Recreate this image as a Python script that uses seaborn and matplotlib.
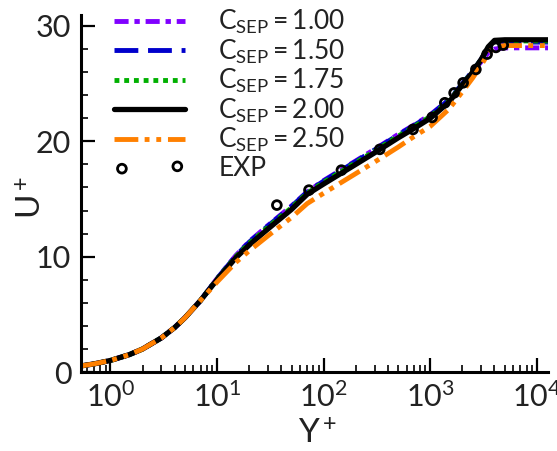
import numpy as np
import pandas as pd
import matplotlib
matplotlib.use("Agg")
import matplotlib.pyplot as plt
import seaborn as sns
from matplotlib.ticker import LogLocator, MultipleLocator, NullFormatter, LogFormatterMathtext

# ---------------- data ----------------
yplus = [0.55, 0.7, 1, 1.5, 2, 3, 4, 5, 7, 10, 15, 20, 30, 50, 70, 100, 200, 300,
         500, 700, 1000, 1500, 2000, 2500, 3000, 3500, 4000, 5000, 7000, 10000, 13000]

inner = [0.55, 0.70, 1.0, 1.5, 1.99, 2.95, 3.85, 4.7, 6.2]

u_c100 = inner + [8.1, 10.1, 11.3, 12.7, 14.4, 15.6, 16.6, 18.3, 19.3,
                  20.6, 21.4, 22.3, 23.6, 24.9, 26.0, 26.9, 27.7, 28.0, 28.1, 28.1, 28.1, 28.1]
u_c150 = inner + [8.1, 10.05, 11.25, 12.65, 14.35, 15.6, 16.55, 18.25, 19.25,
                  20.55, 21.35, 22.25, 23.6, 25.0, 26.1, 27.1, 28.1, 28.5, 28.6, 28.6, 28.6, 28.6]
u_c175 = inner + [8.05, 10.0, 11.15, 12.55, 14.25, 15.5, 16.45, 18.15, 19.15,
                  20.45, 21.25, 22.15, 23.5, 24.95, 26.05, 27.1, 28.15, 28.65, 28.7, 28.7, 28.7, 28.7]
u_c200 = inner + [8.0, 9.9, 11.0, 12.4, 14.1, 15.4, 16.3, 18.0, 19.0,
                  20.3, 21.1, 22.0, 23.4, 24.9, 26.0, 27.1, 28.2, 28.75, 28.8, 28.8, 28.8, 28.8]
u_c250 = inner + [7.8, 9.5, 10.5, 11.8, 13.4, 14.6, 15.5, 17.2, 18.2,
                  19.5, 20.4, 21.3, 22.8, 24.3, 25.5, 26.6, 27.6, 28.2, 28.3, 28.3, 28.3, 28.3]

exp_y = [36.4, 72.8, 146.7, 335.7, 689, 1040, 1368, 1672, 2032, 2675, 3412, 4121, 4829]
exp_u = [14.47, 15.77, 17.50, 19.30, 21.03, 22.07, 23.34, 24.2, 25.07, 26.23, 27.56, 28.14, 28.34]

labels = ["1.00", "1.50", "1.75", "2.00", "2.50"]
series = [u_c100, u_c150, u_c175, u_c200, u_c250]
colors = ["#8000ff", "#0000cc", "#00b000", "#000000", "#ff8000"]
dash_patterns = [(2.9, 1.2, 1.1, 1.2), (4.9, 2.0), (1.0, 1.0), None,
                 (4.9, 1.3, 1.0, 1.4, 1.0, 1.4)]
widths = [3.5, 3.5, 3.5, 3.8, 3.5]

# ---------------- style ----------------
sns.set_theme(style="white")
plt.rcParams["font.family"] = ["Lato", "DejaVu Sans"]
plt.rcParams["mathtext.fontset"] = "custom"
plt.rcParams["mathtext.rm"] = "Lato"
plt.rcParams["mathtext.it"] = "Lato:italic"
plt.rcParams["mathtext.bf"] = "Lato:bold"

fig = plt.figure(figsize=(5.57, 4.51), dpi=100)
ax = fig.add_axes([81 / 557, 79 / 451, 467 / 557, 357 / 451])

for lab, u, c, d, w in zip(labels, series, colors, dash_patterns, widths):
    df = pd.DataFrame({"Y+": yplus, "U+": u})
    sns.lineplot(data=df, x="Y+", y="U+", ax=ax, color=c, linewidth=w,
                 label=r"$\mathregular{C_{SEP}=" + lab + "}$", sort=False)
    line = ax.lines[-1]
    if d is not None:
        line.set_dashes(d)
    line.set_dash_capstyle("butt")

sns.scatterplot(x=exp_y, y=exp_u, ax=ax, marker="o", s=40,
                facecolors="none", edgecolors="black", linewidth=2.0, label="EXP",
                zorder=5)
coll = ax.collections[-1]
coll.set_facecolor("none")
coll.set_edgecolor("black")

ax.set_xscale("log")
ax.set_xlim(0.53, 12700)
ax.set_ylim(0, 30.95)

ax.xaxis.set_major_locator(LogLocator(base=10, numticks=10))
ax.xaxis.set_major_formatter(LogFormatterMathtext())
ax.xaxis.set_minor_locator(LogLocator(base=10, subs=np.arange(2, 10), numticks=20))
ax.xaxis.set_minor_formatter(NullFormatter())
ax.yaxis.set_major_locator(MultipleLocator(10))
ax.yaxis.set_minor_locator(MultipleLocator(2))

for s in ["top", "right"]:
    ax.spines[s].set_visible(False)
for s in ["left", "bottom"]:
    ax.spines[s].set_linewidth(2.2)
    ax.spines[s].set_color("black")

ax.tick_params(which="major", direction="in", length=10, width=1.6,
               labelsize=22, pad=7, colors="black", bottom=True, left=True,
               top=False, right=False)
ax.tick_params(which="minor", direction="in", length=5, width=1.2,
               colors="black", bottom=True, left=True, top=False, right=False)
for t in ax.get_xticklabels() + ax.get_yticklabels():
    t.set_color("#222222")

ax.set_xlabel(r"$\mathregular{Y^+}$", fontsize=24, color="#222222")
ax.set_ylabel(r"$\mathregular{U^+}$", fontsize=24, color="#222222")
ax.xaxis.set_label_coords(0.507, -0.13)
ax.yaxis.set_label_coords(-0.073, 0.49)

leg = ax.legend(loc="upper left", bbox_to_anchor=(114 / 557, 1 - 8 / 451),
                bbox_transform=fig.transFigure, frameon=False, fontsize=19,
                handlelength=2.7, handletextpad=1.25, labelspacing=0.05,
                borderpad=0, borderaxespad=0, scatterpoints=2)
for t in leg.get_texts():
    t.set_color("#222222")

fig.savefig("out.png", dpi=100)
